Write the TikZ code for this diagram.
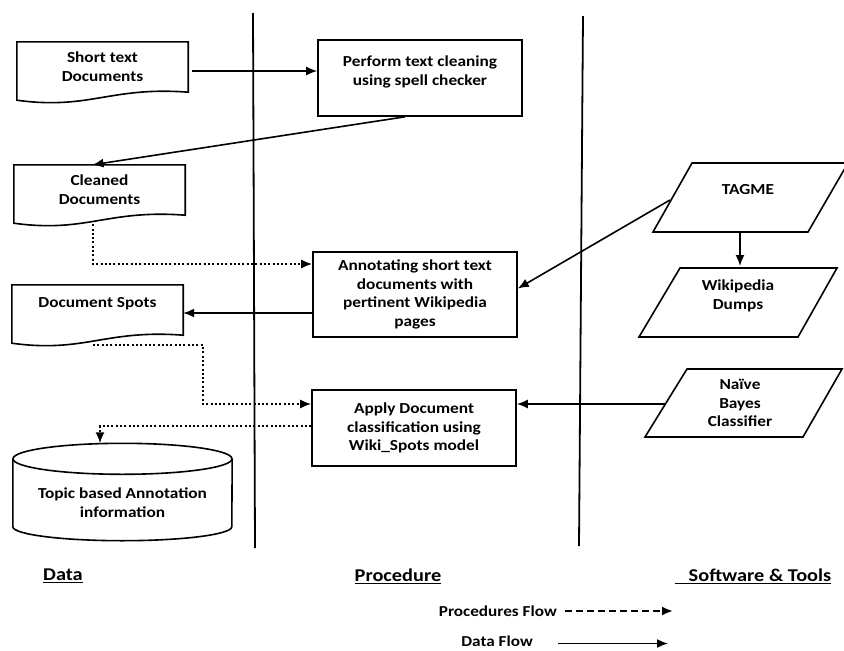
\documentclass[tikz,border=0pt]{standalone}
\usepackage{fontspec}
\setmainfont{Carlito}[FakeStretch=1.13]
\usetikzlibrary{arrows.meta}
\newcommand\boxfont{\fontsize{15.3}{18.7}\selectfont\bfseries}
\newcommand\labfont{\fontsize{18}{22}\selectfont\bfseries}
\newcommand\legfont{\fontsize{15.2}{18}\selectfont\bfseries}
\newcommand\docshape[1]{%
  \draw[shp] ([yshift=-8pt]#1.south west) -- (#1.north west) -- (#1.north east) -- (#1.south east)
    .. controls ([shift={(-78,-6)}]#1.south east) and ([shift={(73,18)}]#1.south west) ..
    ([yshift=-8pt]#1.south west) -- cycle;}
\begin{document}
\begin{tikzpicture}[x=1pt,y=-1pt,
  shp/.style={line width=1.6pt},
  txt/.style={align=center, font=\boxfont, inner sep=0pt},
  procbox/.style={draw, line width=1.6pt, align=center, font=\boxfont, inner sep=0pt},
  arr/.style={line width=1.6pt, -{Latex[length=11pt,width=9pt]}},
  dotarr/.style={line width=1.8pt, dash pattern=on 2pt off 2.3pt, -{Latex[length=11pt,width=9pt]}},
  dasharr/.style={line width=2pt, dash pattern=on 7pt off 4pt, -{Latex[length=11pt,width=9pt]}}
]
\useasboundingbox (0,0) rectangle (844,651);
\clip (0,0) rectangle (844,651);

% lane separators
\draw[line width=1.8pt] (253,13) -- (255,548);
\draw[line width=1.8pt] (583,16) -- (579,546);

% data column
\node[txt, minimum width=171pt, minimum height=50pt] (short) at (102.5,67) {Short text\\Documents};
\docshape{short}
\node[txt, minimum width=171pt, minimum height=50pt] (cleaned) at (99.5,190) {Cleaned\\Documents};
\docshape{cleaned}
\node[txt, minimum width=171pt, minimum height=50pt] (spots) at (97.5,310) {Document Spots\\[-9pt]\strut};
\docshape{spots}

\node[txt, minimum width=219pt, minimum height=97pt] (topic) at (122.5,492) {\strut\\Topic based Annotation\\information};
\draw[shp] ([yshift=-15.5pt]topic.north) ellipse [x radius=109.5pt, y radius=15.5pt];
\draw[shp] ([yshift=-15.5pt]topic.north west) -- ([yshift=14pt]topic.south west)
  arc[start angle=180, end angle=360, x radius=109.5pt, y radius=14pt]
  -- ([yshift=-15.5pt]topic.north east);

% procedure column
\node[procbox, minimum width=204pt, minimum height=76pt] (perform) at (420,78) {Perform text cleaning\\using spell checker\\[-9.5pt]\strut};
\node[procbox, minimum width=204pt, minimum height=85pt] (annot) at (415,294.5) {Annotating short text\\documents with\\pertinent Wikipedia\\pages};
\node[procbox, minimum width=204pt, minimum height=76pt] (apply) at (414,428) {Apply Document\\classification using\\Wiki\_Spots model};

% software column
\node[txt] (tagme) at (748,190) {TAGME};
\draw[shp] (692,163) -- (848,163) -- (808,232) -- (653,232) -- cycle;
\node[txt] (wiki) at (738,295.5) {Wikipedia\\Dumps};
\draw[shp] (680,268) -- (837,268) -- (798,337) -- (639,337) -- cycle;
\node[txt] (naive) at (740,403) {Naïve\\Bayes\\Classifier};
\draw[shp] (687,369) -- (842,369) -- (803,437) -- (645,437) -- cycle;
\coordinate (tagmeleft) at (670,200);
\coordinate (tagmebot) at (740,232);
\coordinate (naiveleft) at (665,404);

% connectors
\draw[arr] ([shift={(4,4)}]short.east) -- (perform.west |- 0,71);
\draw[arr] ([xshift=-15pt]perform.south) -- ([xshift=-7pt]cleaned.north);
\draw[dotarr] ([shift={(-6.5,9)}]cleaned.south) |- ([yshift=30.5pt]annot.west);
\draw[arr] ([yshift=-18.5pt]annot.west) -- ([yshift=-3pt]spots.east);
\draw[dotarr] ([shift={(-4.5,10)}]spots.south) -- ++(110,0) |- ([yshift=24pt]apply.west);
\draw[dotarr] ([yshift=2pt]apply.west) -| ([xshift=-22.5pt]topic.north);
\draw[arr] (tagmeleft) -- ([yshift=6pt]annot.east);
\draw[arr] (tagmebot) -- (740,266);
\draw[arr] (naiveleft) -- ([yshift=24pt]apply.east);

% lane labels
\node[font=\labfont, inner sep=0pt] (ldata) at (63,576) {\underline{Data}};
\node[font=\labfont, inner sep=0pt] (lproc) at (398,576) {\underline{Procedure}};
\node[font=\labfont, inner sep=0pt] (lsoft) at (753,576) {\underline{\hspace{14pt}Software \& Tools}};

% legend
\node[font=\legfont, inner sep=0pt, anchor=east] (legproc) at (557,611) {Procedures Flow};
\draw[dasharr] ([xshift=8pt]legproc.east) -- ++(108,0);
\node[font=\legfont, inner sep=0pt, anchor=east] (legdata) at (533,641.5) {Data Flow};
\draw[arr] ([shift={(25,2)}]legdata.east) -- ++(110,0);
\end{tikzpicture}
\end{document}
